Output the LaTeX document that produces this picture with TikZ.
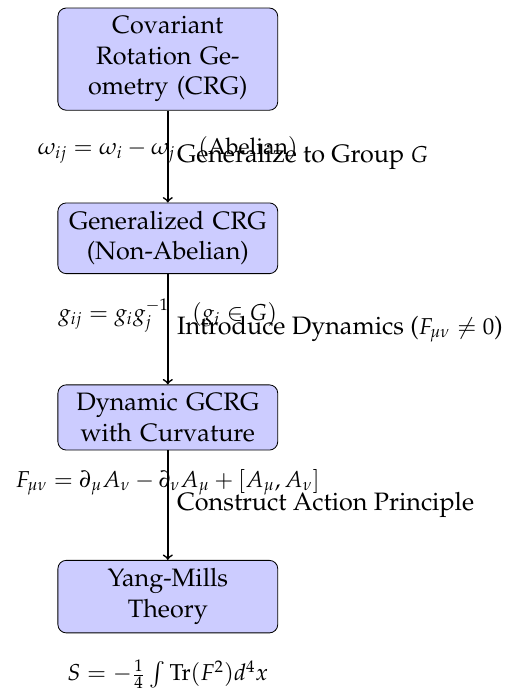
\documentclass[tikz,border=0pt,12pt]{standalone}
\usepackage[T1]{fontenc}
\usepackage{mathpazo}
\usepackage{amsmath}
\usetikzlibrary{positioning}

\begin{document}
\begin{tikzpicture}[
    box/.style={rectangle, rounded corners, draw, fill=blue!20, text width=3.4cm, align=center},
    formula/.style={font=\small},
    flow/.style={->, thick}
  ]
    \useasboundingbox (-2.81,0.99) rectangle (5.76,-10.53);
    % the four stages
    \node[box] (crg) at (0,0) {Covariant Rotation Geometry (CRG)};
    \node[box] (gcrg) at (0,-3) {Generalized CRG (Non-Abelian)};
    \node[box] (dyn) at (0,-6) {Dynamic GCRG with Curvature};
    \node[box] (ym) at (0,-9) {Yang-Mills Theory};
    % formulas under each stage
    \node[formula, below=0.28cm of crg] (abel) {$\omega_{ij} = \omega_i - \omega_j \quad (\text{Abelian})$};
    \node[formula, below=0.27cm of gcrg] (nonabel) {$g_{ij} = g_i g_j^{-1} \quad (g_i \in G)$};
    \node[formula, below=0.17cm of dyn] (curv) {$F_{\mu\nu} = \partial_\mu A_\nu - \partial_\nu A_\mu + [A_\mu, A_\nu]$};
    \node[formula, below=0.3cm of ym] (action) {$S = -\frac{1}{4} \int \mathrm{Tr}(F^2) d^4x$};
    % steps
    \draw[flow] (crg) -- node[right] (step1) {Generalize to Group {\small$G$}} (gcrg);
    \draw[flow] (gcrg) -- node[right] (step2) {Introduce Dynamics ({\small$F_{\mu\nu} \neq 0$})} (dyn);
    \draw[flow] (dyn) -- node[right] (step3) {Construct Action Principle} (ym);
\end{tikzpicture}
\end{document}
